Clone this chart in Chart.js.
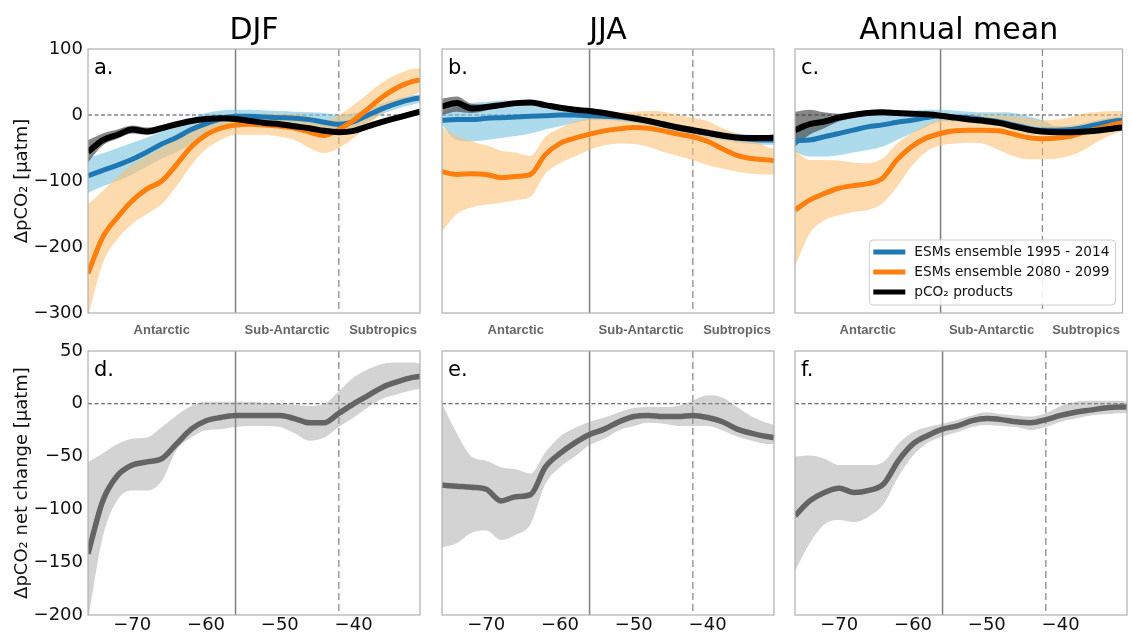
<!DOCTYPE html>
<html>
<head>
<meta charset="utf-8">
<script src="https://cdn.jsdelivr.net/npm/chart.js@4.4.1/dist/chart.umd.min.js"></script>
<style>
  body { margin: 0; background: #fff; width: 1131px; height: 634px; position: relative; overflow: hidden; }
  canvas { position: absolute; }
</style>
</head>
<body>
<canvas id="pa"></canvas>
<canvas id="pb"></canvas>
<canvas id="pc"></canvas>
<canvas id="pd"></canvas>
<canvas id="pe"></canvas>
<canvas id="pf"></canvas>
<script>
const lat = [-76, -74, -72, -70, -68, -66, -64, -62, -60, -58, -56, -54, -52, -50, -48, -46, -44, -42, -40, -38, -36, -34, -32, -31]

// a. DJF
const djfBlue = [-92, -84, -76, -67, -56, -44, -34, -22, -13, -6, -2, -2, -3, -4, -5, -7, -11, -14, -10, 0, 10, 18, 24, 26]
const djfBlueLo = [-118, -108, -100, -90, -78, -66, -56, -43, -30, -18, -12, -10, -10, -12, -13, -15, -20, -24, -20, -10, 2, 10, 16, 18]
const djfBlueHi = [-65, -58, -50, -42, -34, -25, -15, -5, 3, 7, 8, 8, 7, 6, 5, 4, 3, 0, 3, 10, 18, 25, 30, 32]
const djfOrange = [-240, -185, -155, -130, -112, -100, -75, -48, -30, -20, -15, -14, -15, -17, -20, -26, -31, -22, -8, 10, 28, 42, 51, 53]
const djfOrangeLo = [-305, -225, -188, -165, -150, -135, -108, -76, -52, -38, -30, -30, -30, -33, -38, -50, -58, -50, -35, -15, 5, 20, 30, 35]
const djfOrangeHi = [-135, -115, -93, -75, -62, -50, -35, -18, -8, -3, 0, 1, 2, 2, 1, -2, -8, 0, 15, 33, 50, 62, 70, 71]
const djfObs = [-56, -38, -30, -22, -25, -20, -14, -9, -6, -5, -6, -9, -12, -14, -17, -20, -24, -26, -24, -17, -10, -4, 2, 5]
const djfObsLo = [-72, -46, -36, -28, -30, -25, -17, -12, -9, -8, -9, -12, -15, -17, -20, -23, -27, -29, -27, -20, -13, -7, -1, 2]
const djfObsHi = [-38, -28, -22, -16, -19, -15, -11, -6, -3, -2, -3, -6, -9, -11, -14, -17, -21, -23, -21, -14, -7, -1, 5, 8]

// b. JJA
const jjaBlue = [-8, -7, -7, -5, -4, -3, -2, -1, 0, 0, -1, -2, -3, -6, -10, -15, -20, -24, -28, -32, -35, -37, -38, -38]
const jjaBlueLo = [-15, -38, -40, -38, -35, -32, -28, -22, -17, -12, -8, -8, -9, -12, -15, -20, -26, -30, -35, -38, -42, -44, -45, -45]
const jjaBlueHi = [5, 12, 18, 20, 22, 22, 20, 15, 10, 7, 5, 3, 1, -2, -6, -10, -14, -18, -22, -26, -28, -30, -31, -31]
const jjaOrange = [-86, -90, -89, -90, -95, -93, -90, -60, -43, -35, -29, -24, -21, -19, -20, -24, -29, -33, -40, -51, -61, -66, -68, -69]
const jjaOrangeLo = [-177, -150, -140, -136, -133, -129, -124, -89, -73, -63, -53, -46, -43, -44, -48, -56, -62, -68, -76, -81, -86, -89, -90, -90]
const jjaOrangeHi = [-18, -32, -40, -46, -54, -57, -62, -33, -20, -10, -5, 0, 4, 5, 6, 5, 0, -4, -9, -20, -28, -35, -48, -51]
const jjaObs = [13, 18, 10, 12, 15, 18, 19, 15, 11, 8, 6, 3, -1, -5, -9, -14, -19, -23, -27, -31, -34, -35, -35, -34]
const jjaObsLo = [0, 5, 3, 7, 12, 15, 16, 12, 8, 5, 3, 0, -4, -8, -12, -17, -22, -26, -30, -34, -37, -38, -38, -37]
const jjaObsHi = [25, 28, 17, 16, 18, 21, 22, 18, 14, 11, 9, 6, 2, -2, -6, -11, -16, -20, -24, -28, -31, -32, -32, -31]

// c. Annual mean
const annBlue = [-39, -38, -33, -28, -23, -18, -15, -11, -8, -4, -1, -3, -4, -7, -10, -15, -20, -23, -23, -22, -18, -13, -9, -8]
const annBlueLo = [-56, -63, -63, -61, -57, -53, -48, -38, -28, -18, -10, -10, -12, -14, -17, -22, -27, -30, -30, -29, -25, -20, -16, -15]
const annBlueHi = [-25, -10, -5, 0, 3, 4, 5, 6, 7, 8, 8, 7, 5, 4, 4, 3, -2, -8, -17, -16, -12, -7, -3, -2]
const annOrange = [-144, -129, -119, -111, -107, -104, -96, -68, -48, -35, -28, -24, -23, -23, -24, -29, -34, -36, -35, -32, -25, -20, -14, -12]
const annOrangeLo = [-230, -180, -160, -152, -147, -144, -134, -109, -78, -56, -46, -43, -42, -44, -53, -62, -67, -67, -66, -61, -51, -38, -28, -24]
const annOrangeHi = [-53, -68, -68, -69, -72, -73, -66, -43, -28, -15, -7, -3, 0, 0, 0, -2, -5, -8, -7, -3, 3, 5, 6, 6]
const annObs = [-23, -14, -10, -4, 0, 3, 4, 3, 2, 1, -1, -4, -7, -9, -12, -17, -22, -25, -26, -26, -25, -23, -20, -19]
const annObsLo = [-48, -30, -20, -10, -4, 0, 1, 0, -1, -2, -4, -7, -10, -12, -15, -20, -25, -28, -29, -29, -28, -26, -23, -22]
const annObsHi = [5, 8, 4, 2, 4, 6, 7, 6, 5, 4, 2, -1, -4, -6, -9, -14, -19, -22, -23, -23, -22, -20, -17, -16]

// d. e. f. net change (2080-2099 minus 1995-2014)
const djfNet = [-142, -92, -68, -58, -55, -52, -38, -24, -16, -13, -11, -11, -11, -11, -14, -18, -18, -9, 0, 8, 16, 21, 25, 26]
const djfNetLo = [-205, -126, -91, -82, -82, -73, -44, -32, -25, -24, -22, -21, -21, -22, -28, -35, -32, -22, -13, -3, 5, 9, 13, 14]
const djfNetHi = [-55, -47, -38, -33, -32, -22, -11, -2, 2, 2, 2, 2, 1, 0, -1, -2, 0, 12, 25, 33, 38, 39, 39, 38]
const jjaNet = [-77, -78, -79, -81, -92, -88, -86, -60, -47, -37, -29, -24, -17, -12, -11, -12, -12, -11, -13, -17, -24, -28, -31, -32]
const jjaNetLo = [-136, -132, -122, -120, -129, -124, -114, -76, -60, -50, -39, -33, -25, -21, -18, -19, -21, -21, -21, -25, -31, -35, -38, -38]
const jjaNetHi = [0, -28, -50, -54, -60, -62, -66, -46, -31, -23, -17, -13, -8, -4, -3, -3, -2, 3, 8, 6, -3, -12, -18, -20]
const annNet = [-106, -92, -84, -80, -84, -82, -76, -54, -38, -30, -24, -21, -16, -14, -15, -17, -18, -15, -11, -8, -6, -4, -3, -3]
const annNetLo = [-158, -132, -114, -110, -112, -107, -95, -69, -49, -37, -31, -27, -22, -20, -21, -22, -25, -22, -17, -14, -11, -10, -9, -9]
const annNetHi = [-50, -49, -52, -58, -58, -58, -55, -38, -27, -22, -19, -15, -11, -8, -10, -11, -12, -9, -2, 2, 3, 3, 3, 2]

// axes and labels
const topYTicks = [-300, -200, -100, 0, 100]
const netYTicks = [-200, -150, -100, -50, 0, 50]
const latTicks = [-70, -60, -50, -40]
const regionNames = ['Antarctic', 'Sub-Antarctic', 'Subtropics']
const regionAt = [-66, -49, -36]
const seriesNames = ['ESMs ensemble 1995 - 2014', 'ESMs ensemble 2080 - 2099', 'pCO\u2082 products']
const titles = ['DJF', 'JJA', 'Annual mean']

const BLUE = '#1f77b4'
const ORANGE = '#ff7f0e'
const BLUE_BAND = 'rgba(120, 195, 222, 0.6)'
const ORANGE_BAND = 'rgba(253, 190, 110, 0.55)'
const OBS_BAND = 'rgba(60, 60, 60, 0.62)'
const NET_LINE = '#646464'
const NET_BAND = 'rgba(150, 150, 150, 0.42)'
const FONT = 'DejaVu Sans'

const minus = v => (v < 0 ? '\u2212' + Math.abs(v) : String(v))
const pts = arr => lat.map((x, i) => ({ x, y: arr[i] }))

function band(lo, hi, color, order) {
    const common = { pointRadius: 0, borderWidth: 1, borderColor: 'transparent', clip: 0, cubicInterpolationMode: 'monotone', order }
    return [
        { ...common, data: pts(lo), fill: false },
        { ...common, data: pts(hi), fill: '-1', backgroundColor: color }
    ]
}

function line(arr, color, width, order, label) {
    return { label, data: pts(arr), borderColor: color, borderWidth: width, pointRadius: 0, fill: false,
        clip: 0, cubicInterpolationMode: 'monotone', order }
}

// reference lines, frame, panel letter and legend
const decor = {
    id: 'decor',
    beforeDatasetsDraw(chart) {
        const { ctx, chartArea: a, scales: { x, y } } = chart
        ctx.save()
        const x1 = x.getPixelForValue(-56)
        const x2 = x.getPixelForValue(-42)
        const y0 = y.getPixelForValue(0)
        ctx.strokeStyle = '#7f7f7f'
        ctx.lineWidth = 1.5
        ctx.beginPath(); ctx.moveTo(x1, a.top); ctx.lineTo(x1, a.bottom); ctx.stroke()
        ctx.strokeStyle = '#8c8c8c'
        ctx.lineWidth = 1.3
        ctx.setLineDash([7, 4])
        ctx.beginPath(); ctx.moveTo(x2, a.top); ctx.lineTo(x2, a.bottom); ctx.stroke()
        ctx.strokeStyle = '#444'
        ctx.lineWidth = 1.1
        ctx.setLineDash([4, 2.5])
        ctx.beginPath(); ctx.moveTo(a.left, y0); ctx.lineTo(a.right, y0); ctx.stroke()
        ctx.restore()
    },
    afterDatasetsDraw(chart, args, opts) {
        const { ctx, chartArea: a } = chart
        ctx.save()
        ctx.strokeStyle = '#b0b0b0'
        ctx.lineWidth = 1.2
        ctx.strokeRect(a.left, a.top, a.right - a.left, a.bottom - a.top)
        ctx.fillStyle = '#000'
        ctx.font = '21px "' + FONT + '"'
        ctx.textBaseline = 'alphabetic'
        ctx.fillText(opts.letter, a.left + 6, a.top + 25)
        if (opts.legend) {
            const items = chart.data.datasets.filter(d => d.label)
            ctx.font = '13.7px "' + FONT + '"'
            const tw = Math.max(...items.map(d => ctx.measureText(d.label).width))
            const w = 45 + tw + 6, h = 65
            const bx = a.right - 7 - w, by = a.bottom - 8 - h
            ctx.fillStyle = 'rgba(255,255,255,0.85)'
            ctx.strokeStyle = '#cccccc'
            ctx.lineWidth = 1
            ctx.beginPath()
            ctx.roundRect(bx, by, w, h, 4)
            ctx.fill(); ctx.stroke()
            ctx.textBaseline = 'middle'
            items.forEach((d, i) => {
                const cy = by + 12 + i * 20
                ctx.strokeStyle = d.borderColor
                ctx.lineWidth = 5
                ctx.beginPath(); ctx.moveTo(bx + 4, cy); ctx.lineTo(bx + 36, cy); ctx.stroke()
                ctx.fillStyle = '#111'
                ctx.fillText(d.label, bx + 45, cy)
            })
        }
        ctx.restore()
    }
}

function makePanel(id, box, o) {
    const canvas = document.getElementById(id)
    canvas.width = box[2]
    canvas.height = box[3]
    canvas.style.left = box[0] + 'px'
    canvas.style.top = box[1] + 'px'
    const topRow = o.row === 0
    const yTicks = topRow ? topYTicks : netYTicks
    const config = {
        type: 'line',
        data: { datasets: o.datasets },
        plugins: [decor],
        options: {
            responsive: false,
            animation: false,
            events: [],
            layout: { padding: { top: topRow ? 13 : 11, right: o.padRight, left: 0, bottom: 0 } },
            plugins: {
                legend: { display: false },
                tooltip: { enabled: false },
                title: {
                    display: topRow, text: o.title, fullSize: false, color: '#000',
                    font: { family: FONT, size: 30, weight: 'normal', lineHeight: 1.2 },
                    padding: { top: 0, bottom: 0 }
                },
                decor: { letter: o.letter, legend: !!o.legend }
            },
            scales: {
                x: {
                    type: 'linear', min: -76, max: -31,
                    grid: { display: false, drawTicks: false },
                    border: { display: false },
                    afterBuildTicks: s => { s.ticks = (topRow ? regionAt : latTicks).map(v => ({ value: v })) },
                    afterFit: s => { s.height = topRow ? 27 : 19 },
                    ticks: topRow
                        ? { autoSkip: false, maxRotation: 0, padding: 10, color: '#666',
                            font: { family: 'Liberation Sans', size: 13, weight: 'bold' },
                            callback: v => regionNames[regionAt.indexOf(v)] }
                        : { autoSkip: false, maxRotation: 0, padding: 0, color: '#111',
                            font: { family: FONT, size: 18 }, callback: minus }
                },
                y: {
                    type: 'linear', min: yTicks[0], max: yTicks[yTicks.length - 1],
                    grid: { display: false, drawTicks: true, tickLength: 5 },
                    border: { display: false },
                    afterBuildTicks: s => { s.ticks = yTicks.map(v => ({ value: v })) },
                    afterFit: s => { s.width = o.yWidth },
                    ticks: { display: !!o.yTitle, padding: 0, color: '#111', font: { family: FONT, size: 18 }, callback: minus },
                    title: { display: !!o.yTitle, text: o.yTitle, color: '#111', padding: { top: 12, bottom: 0 },
                        font: { family: FONT, size: 18, lineHeight: 1.2 } }
                }
            }
        }
    }
    return new Chart(canvas, config)
}

function ensemble(blue, blueLo, blueHi, orange, orangeLo, orangeHi, obs, obsLo, obsHi) {
    return [
        ...band(blueLo, blueHi, BLUE_BAND, 7),
        ...band(orangeLo, orangeHi, ORANGE_BAND, 6),
        ...band(obsLo, obsHi, OBS_BAND, 5),
        line(blue, BLUE, 5, 3, seriesNames[0]),
        line(orange, ORANGE, 5, 2, seriesNames[1]),
        line(obs, '#000000', 6, 1, seriesNames[2])
    ]
}

function net(mid, lo, hi) {
    return [...band(lo, hi, NET_BAND, 5), line(mid, NET_LINE, 5.5, 1)]
}

const yTitleTop = '\u0394pCO\u2082 [\u03bcatm]'
const yTitleNet = '\u0394pCO\u2082 net change [\u03bcatm]'

makePanel('pa', [0, 0, 430, 340], { row: 0, title: titles[0], letter: 'a.', yWidth: 88, padRight: 10, yTitle: yTitleTop,
    datasets: ensemble(djfBlue, djfBlueLo, djfBlueHi, djfOrange, djfOrangeLo, djfOrangeHi, djfObs, djfObsLo, djfObsHi) })
makePanel('pb', [430, 0, 355, 340], { row: 0, title: titles[1], letter: 'b.', yWidth: 12, padRight: 11,
    datasets: ensemble(jjaBlue, jjaBlueLo, jjaBlueHi, jjaOrange, jjaOrangeLo, jjaOrangeHi, jjaObs, jjaObsLo, jjaObsHi) })
makePanel('pc', [785, 0, 346, 340], { row: 0, title: titles[2], letter: 'c.', yWidth: 10, padRight: 4, legend: true,
    datasets: ensemble(annBlue, annBlueLo, annBlueHi, annOrange, annOrangeLo, annOrangeHi, annObs, annObsLo, annObsHi) })
makePanel('pd', [0, 340, 430, 294], { row: 1, letter: 'd.', yWidth: 88, padRight: 10, yTitle: yTitleNet,
    datasets: net(djfNet, djfNetLo, djfNetHi) })
makePanel('pe', [430, 340, 355, 294], { row: 1, letter: 'e.', yWidth: 12, padRight: 11,
    datasets: net(jjaNet, jjaNetLo, jjaNetHi) })
makePanel('pf', [785, 340, 346, 294], { row: 1, letter: 'f.', yWidth: 10, padRight: 4,
    datasets: net(annNet, annNetLo, annNetHi) })
</script>
</body>
</html>
